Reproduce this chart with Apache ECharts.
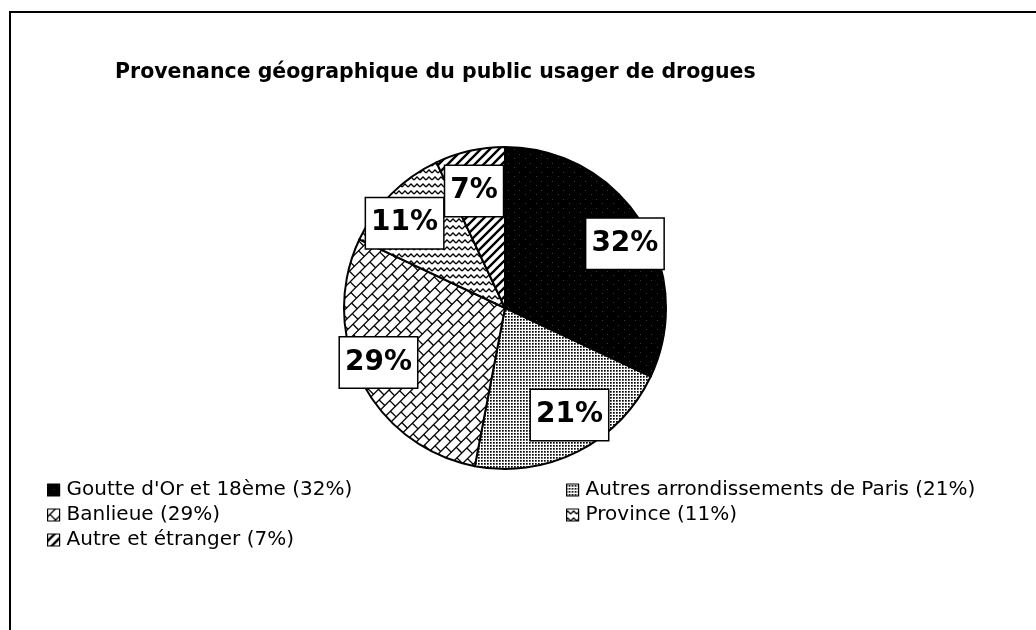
<!DOCTYPE html>
<html>
<head>
<meta charset="utf-8">
<script src="https://cdn.jsdelivr.net/npm/echarts@6/dist/echarts.min.js"></script>
<style>
  html,body{margin:0;padding:0;background:#fff;}
  #main{width:1036px;height:630px;}
</style>
</head>
<body>
<div id="main"></div>
<script>
// donnees
var categories = ["Goutte d'Or et 18ème", "Autres arrondissements de Paris", "Banlieue", "Province", "Autre et étranger"];
var values = [32, 21, 29, 11, 7];
var leftNames = [0, 2, 4];
var rightNames = [1, 3];

var CX = 505, CY = 308, R = 161;
var LABEL_RX = 142, LABEL_RY = 120;

function mk(w, h){
  var c = document.createElement('canvas');
  c.width = w; c.height = h;
  return c;
}
// noir moucheté
function speckle(){
  var c = mk(11, 9), x = c.getContext('2d');
  x.fillStyle = '#000'; x.fillRect(0, 0, 11, 9);
  x.fillStyle = '#3a3a3a'; x.fillRect(2, 1, 1, 1); x.fillRect(8, 5, 1, 1);
  return c;
}
// pointillé fin
function dots(){
  var c = mk(3, 3), x = c.getContext('2d');
  x.fillStyle = '#fff'; x.fillRect(0, 0, 3, 3);
  x.fillStyle = '#000'; x.fillRect(1, 1, 1.7, 1.7);
  return c;
}
// briques en diagonale
function bricks(){
  var c = mk(1036, 630), x = c.getContext('2d');
  x.fillStyle = '#fff'; x.fillRect(0, 0, 1036, 630);
  x.strokeStyle = '#000'; x.lineWidth = 1.3;
  x.translate(CX, CY); x.rotate(-Math.PI / 4);
  for (var y = -600, r = 0; y < 600; y += 8, r++) {
    x.beginPath(); x.moveTo(-700, y); x.lineTo(700, y); x.stroke();
    var off = (r % 2) * 7;
    for (var k = -700; k < 700; k += 14) {
      x.beginPath(); x.moveTo(k + off, y); x.lineTo(k + off, y + 8); x.stroke();
    }
  }
  return c;
}
// zigzag
function waves(){
  var c = mk(6, 7), x = c.getContext('2d');
  x.fillStyle = '#fff'; x.fillRect(0, 0, 6, 7);
  x.strokeStyle = '#000'; x.lineWidth = 1.3;
  x.beginPath(); x.moveTo(0, 5); x.lineTo(3, 2); x.lineTo(6, 5); x.stroke();
  return c;
}
// hachures
function stripes(){
  var c = mk(9, 9), x = c.getContext('2d');
  x.fillStyle = '#fff'; x.fillRect(0, 0, 9, 9);
  x.strokeStyle = '#000'; x.lineWidth = 2.4;
  x.beginPath();
  x.moveTo(-1, 10); x.lineTo(10, -1);
  x.moveTo(-1, 1); x.lineTo(1, -1);
  x.moveTo(8, 10); x.lineTo(10, 8);
  x.stroke();
  return c;
}

var fills = [
  {image: speckle(), repeat: 'repeat'},
  {image: dots(), repeat: 'repeat'},
  {image: bricks(), repeat: 'no-repeat'},
  {image: waves(), repeat: 'repeat'},
  {image: stripes(), repeat: 'repeat'}
];

function nameOf(i){ return categories[i] + ' (' + values[i] + '%)'; }

var total = values.reduce(function(a, b){ return a + b; }, 0);
function midAngle(i){
  var before = 0;
  for (var k = 0; k < i; k++) before += values[k];
  return (before + values[i] / 2) / total * Math.PI * 2;
}

var pieData = values.map(function(v, i){
  return {name: nameOf(i), value: v, itemStyle: {color: fills[i]}};
});
var labelData = values.map(function(v, i){
  return {name: nameOf(i), value: v};
});

var chart = echarts.init(document.getElementById('main'));
var legendBase = {
  orient: 'vertical',
  icon: 'path://M0,0H10V10H0Z',
  padding: 0,
  itemWidth: 16,
  itemHeight: 12,
  itemGap: 5,
  selectedMode: false,
  textStyle: {fontFamily: 'DejaVu Sans', fontSize: 20, color: '#000'},
  itemStyle: {borderColor: '#000', borderWidth: 1.2}
};
chart.setOption({
  animation: false,
  backgroundColor: '#fff',
  title: {
    text: 'Provenance géographique du public usager de drogues',
    left: 110,
    top: 57,
    textStyle: {fontFamily: 'DejaVu Sans', fontWeight: 'bold', fontSize: 20.5, color: '#000'}
  },
  graphic: [{
    type: 'rect',
    shape: {x: 10, y: 12, width: 1060, height: 660},
    style: {fill: 'none', stroke: '#000', lineWidth: 2},
    silent: true
  }],
  legend: [
    Object.assign({left: 47, top: 480, data: leftNames.map(nameOf)}, legendBase),
    Object.assign({left: 566, top: 480, data: rightNames.map(nameOf)}, legendBase)
  ],
  series: [{
    type: 'pie',
    center: [CX, CY],
    radius: [0, R],
    startAngle: 90,
    clockwise: true,
    silent: true,
    label: {show: false},
    labelLine: {show: false},
    itemStyle: {borderColor: '#000', borderWidth: 2},
    emphasis: {disabled: true},
    data: pieData
  }, {
    type: 'pie',
    center: [CX, CY],
    radius: [0, R],
    startAngle: 90,
    clockwise: true,
    silent: true,
    avoidLabelOverlap: false,
    itemStyle: {color: 'rgba(0,0,0,0)', borderWidth: 0},
    emphasis: {disabled: true},
    labelLine: {show: false},
    label: {
      show: true,
      position: 'inside',
      formatter: '{c}%',
      fontFamily: 'DejaVu Sans',
      fontWeight: 'bold',
      fontSize: 28,
      color: '#000',
      backgroundColor: '#fff',
      borderColor: '#000',
      borderWidth: 1.5,
      padding: [12, 5, 10, 5]
    },
    labelLayout: function(p){
      var a = midAngle(p.dataIndex);
      return {
        x: CX + LABEL_RX * Math.sin(a),
        y: CY - LABEL_RY * Math.cos(a),
        align: 'center',
        verticalAlign: 'middle',
        hideOverlap: false
      };
    },
    data: labelData
  }]
});
</script>
</body>
</html>
